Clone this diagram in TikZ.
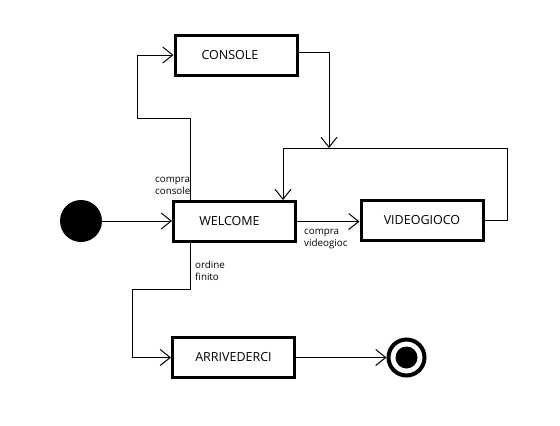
\documentclass[tikz,border=0pt]{standalone}
\usepackage{fontspec}
\setmainfont{Open Sans}
\usetikzlibrary{arrows.meta}
\begin{document}
\begin{tikzpicture}[x=1pt,y=-1pt,
  state/.style={draw,line width=3pt,minimum width=122pt,minimum height=40pt,inner sep=0pt,font=\fontsize{12.5}{14}\selectfont},
  conn/.style={line width=1pt,-{Straight Barb[length=10pt,width=16pt]}},
  lbl/.style={font=\fontsize{9.8}{12.5}\selectfont,text width=60pt,align=left,inner sep=0pt,anchor=base west}]
\useasboundingbox[fill=white] (0,0) rectangle (560,426);
\node[state] (c) at (236,55) {\hspace*{-12pt}CONSOLE};
\node[state] (w) at (234.5,221.5) {\hspace*{-10pt}WELCOME};
\node[state] (v) at (422,220.5) {VIDEOGIOCO};
\node[state] (a) at (233.5,357.5) {ARRIVEDERCI};
\node[circle,fill,minimum size=42pt,inner sep=0pt] (s) at (81,221) {};
\node[circle,draw,line width=4pt,minimum size=36pt,inner sep=0pt] (e) at (406.5,357.5) {};
\node[circle,fill,minimum size=22pt,inner sep=0pt] (ein) at (e) {};
\coordinate (j) at (329,148);
\draw[conn] (s.east) -- (s.east -| w.west);
\draw[conn] ([xshift=18pt]w.north west) |- (137,118) |- (c.west);
\draw[conn] ([yshift=3pt]c.east) -| (j);
\draw[conn] (v.east) -| (507,148) -| ([xshift=-14pt]w.north east);
\draw[conn] (w.east) -- (w.east -| v.west);
\draw[conn] ([xshift=18pt]w.south west) |- (132,289) |- (a.west);
\draw[conn] (a.east) -- (a.east -| e.west);
\node[lbl] (l1) at (155,182) {compra\\console};
\node[lbl] (l2) at (304,234) {compra\\videogioc};
\node[lbl] (l3) at (195,268) {ordine\\finito};
\end{tikzpicture}
\end{document}
